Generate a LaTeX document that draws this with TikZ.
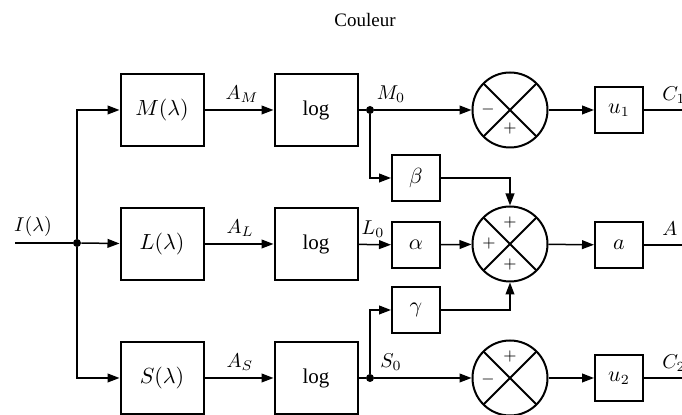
\documentclass[tikz,border=0pt]{standalone}
\usepackage{fontspec}
\setmainfont{Liberation Serif}
\usetikzlibrary{arrows.meta}
\tikzset{
    block/.style={draw, line width=1pt, minimum width=41.5pt, minimum height=36pt,
        inner sep=0pt, font=\fontsize{10.5}{12}\selectfont},
    gain/.style={draw, line width=1pt, minimum width=24pt, minimum height=23pt,
        inner sep=0pt, font=\fontsize{10.5}{12}\selectfont},
    sumx/.style={draw, circle, line width=1pt, minimum size=37.5pt, inner sep=0pt,
        path picture={\draw[line width=1pt]
            (path picture bounding box.north west) -- (path picture bounding box.south east)
            (path picture bounding box.north east) -- (path picture bounding box.south west);}},
    sign/.style={inner sep=0pt, font=\fontsize{8}{9}\selectfont},
    sig/.style={inner sep=1pt, font=\fontsize{10}{12}\selectfont},
    link/.style={-{Triangle[length=6pt,width=4.4pt]}, line width=0.75pt},
    wire/.style={line width=0.75pt},
    dot/.style={circle, fill, inner sep=0pt, minimum size=4pt}
}

\begin{document}
\begin{tikzpicture}[x=0.5pt, y=-0.5pt]
    \useasboundingbox (0,0) rectangle (682,415);
    \node[sig, font=\fontsize{9.5}{11}\selectfont] (title) at (365,20) {Couleur};
    % input and its fork
    \coordinate (in) at (15,243);
    \node[dot] (fork) at (77,243) {};
    \node[sig] (lI) at (33,227) {$I(\lambda)$};
    % filters
    \node[block] (M) at (162,110) {$M(\lambda)$};
    \node[block] (L) at (162,244) {$L(\lambda)$};
    \node[block] (S) at (162,378) {$S(\lambda)$};
    % log stages
    \node[block] (logM) at (316,110) {log};
    \node[block] (logL) at (316,244) {log};
    \node[block] (logS) at (316,378) {log};
    % gains
    \node[gain] (beta) at (416,178) {$\beta$};
    \node[gain] (alpha) at (416,245) {$\alpha$};
    \node[gain] (gamma) at (416,310) {$\gamma$};
    % summing junctions
    \node[sumx] (sumM) at (510,110) {};
    \node[sumx] (sumL) at (510,244) {};
    \node[sumx] (sumS) at (510,378) {};
    \node[sign] (sMl) at (488,110) {$-$};
    \node[sign] (sMb) at (510,129) {$+$};
    \node[sign] (sLt) at (510,223) {$+$};
    \node[sign] (sLl) at (489,244) {$+$};
    \node[sign] (sLb) at (510,265) {$+$};
    \node[sign] (sSt) at (510,357) {$+$};
    \node[sign] (sSl) at (488,380) {$-$};
    % output gains
    \node[gain] (u1) at (619,110) {$u_1$};
    \node[gain] (a) at (619,245) {$a$};
    \node[gain] (u2) at (619,378) {$u_2$};
    \coordinate (outC1) at (682,110);
    \coordinate (outA) at (682,245);
    \coordinate (outC2) at (682,378);
    % branch points after the log stages
    \node[dot] (jM) at (370,110) {};
    \node[dot] (jS) at (370,378) {};
    % signal labels
    \node[sig] (lAM) at (242,94) {$A_M$};
    \node[sig] (lAL) at (240,228) {$A_L$};
    \node[sig] (lAS) at (240,362) {$A_S$};
    \node[sig] (lM0) at (391,94) {$M_0$};
    \node[sig] (lL0) at (373,229) {$L_0$};
    \node[sig] (lS0) at (391,362) {$S_0$};
    \node[sig, anchor=west] (lC1) at (660,95) {$C_1$};
    \node[sig, anchor=west] (lA) at (660,229) {$A$};
    \node[sig, anchor=west] (lC2) at (660,363) {$C_2$};
    % wiring
    \draw[wire] (in) -- (fork);
    \draw[link] (fork) -- (L);
    \draw[link] (fork) |- (M);
    \draw[link] (fork) |- (S);
    \draw[link] (M) -- (logM);
    \draw[link] (L) -- (logL);
    \draw[link] (S) -- (logS);
    \draw[wire] (logM) -- (jM);
    \draw[link] (jM) -- (sumM);
    \draw[link] (jM) |- (beta);
    \draw[link] (logL) -- (alpha);
    \draw[wire] (logS) -- (jS);
    \draw[link] (jS) -- (sumS);
    \draw[link] (jS) |- (gamma);
    \draw[link] (alpha) -- (sumL);
    \draw[link] (beta) -| (sumL);
    \draw[link] (gamma) -| (sumL);
    \draw[link] (sumM) -- (u1);
    \draw[link] (sumL) -- (a);
    \draw[link] (sumS) -- (u2);
    \draw[wire] (u1) -- (outC1);
    \draw[wire] (a) -- (outA);
    \draw[wire] (u2) -- (outC2);
\end{tikzpicture}
\end{document}
